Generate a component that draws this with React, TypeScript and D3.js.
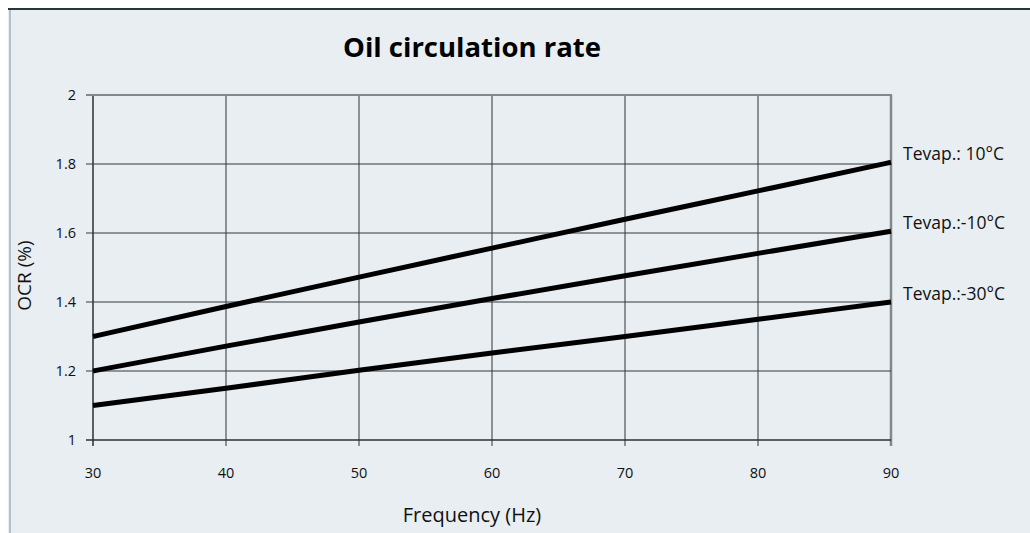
import React from "react";
import * as d3 from "d3";

const frequencies = [30, 40, 50, 60, 70, 80, 90];
const ocr10 = [1.3, 1.387, 1.472, 1.556, 1.64, 1.722, 1.805];
const ocrMinus10 = [1.2, 1.272, 1.342, 1.41, 1.476, 1.541, 1.605];
const ocrMinus30 = [1.1, 1.15, 1.202, 1.252, 1.3, 1.35, 1.4];
const seriesLabels = ["Tevap.: 10°C", "Tevap.:-10°C", "Tevap.:-30°C"];
const xTicks = [30, 40, 50, 60, 70, 80, 90];
const yTicks = [1, 1.2, 1.4, 1.6, 1.8, 2];

const FONT = "'Open Sans', 'Noto Sans', sans-serif";

export default function App() {
  const W = 1022;
  const H = 525;
  // svg origin is at page (8,8)
  const x = d3.scaleLinear().domain([30, 90]).range([85, 883]);
  const y = d3.scaleLinear().domain([1, 2]).range([432, 87]);
  const line = d3
    .line<number>()
    .x((_, i) => x(frequencies[i]))
    .y((d) => y(d))
    .curve(d3.curveMonotoneX);
  const series = [ocr10, ocrMinus10, ocrMinus30];
  const fmt = (v: number) => (Number.isInteger(v) ? String(v) : v.toFixed(1));

  return (
    <svg
      width={W}
      height={H}
      style={{ display: "block", position: "fixed", left: 8, top: 8 }}
      fontFamily={FONT}
    >
      <rect x={0} y={0} width={W} height={H} fill="#e8eef1" />
      <line x1={2} x2={2} y1={0} y2={H} stroke="#b3c1ca" strokeWidth={2} />
      <line x1={0} x2={W} y1={1} y2={1} stroke="#26353c" strokeWidth={2} />

      {/* vertical grid */}
      {xTicks.map((t) => (
        <line
          key={"vx" + t}
          x1={x(t)}
          x2={x(t)}
          y1={y(2)}
          y2={y(1) + 6}
          stroke={t === 90 ? "#85888b" : t === 30 ? "#2c2f31" : "#5c5f62"}
          strokeWidth={t === 90 ? 2.5 : t === 30 ? 1.5 : 1.3}
        />
      ))}
      {/* horizontal grid */}
      {yTicks.map((t) => (
        <line
          key={"hy" + t}
          x1={x(30) - 7}
          x2={x(90) + (t === 2 ? 1 : 0)}
          y1={y(t)}
          y2={y(t)}
          stroke={t === 2 ? "#85888b" : t === 1 ? "#2c2f31" : "#36393c"}
          strokeWidth={t === 2 ? 2 : t === 1 ? 1.6 : 1.1}
        />
      ))}

      {/* y tick labels */}
      {yTicks.map((t) => (
        <text
          key={"yl" + t}
          x={68}
          y={y(t)}
          dy="0.35em"
          textAnchor="end"
          fontSize={14.5}
          fill="#111"
        >
          {fmt(t)}
        </text>
      ))}
      {/* x tick labels */}
      {xTicks.map((t) => (
        <text
          key={"xl" + t}
          x={x(t)}
          y={470}
          textAnchor="middle"
          fontSize={14.5}
          fill="#111"
        >
          {t}
        </text>
      ))}

      {series.map((s, i) => (
        <path
          key={"s" + i}
          d={line(s) || ""}
          fill="none"
          stroke="#000"
          strokeWidth={5}
          strokeLinejoin="round"
        />
      ))}

      {series.map((s, i) => (
        <text
          key={"lab" + i}
          x={895}
          y={y(s[s.length - 1]) - 2}
          fontSize={17.5}
          fill="#111"
        >
          {seriesLabels[i]}
        </text>
      ))}

      <text
        x={464}
        y={49}
        textAnchor="middle"
        fontSize={27.5}
        fontWeight="bold"
        fill="#000"
      >
        Oil circulation rate
      </text>
      <text x={464} y={514} textAnchor="middle" fontSize={20} fill="#111">
        Frequency (Hz)
      </text>
      <text
        transform={`translate(23,${(y(1) + y(2)) / 2 + 8}) rotate(-90)`}
        textAnchor="middle"
        fontSize={19}
        fill="#111"
      >
        OCR (%)
      </text>
    </svg>
  );
}
